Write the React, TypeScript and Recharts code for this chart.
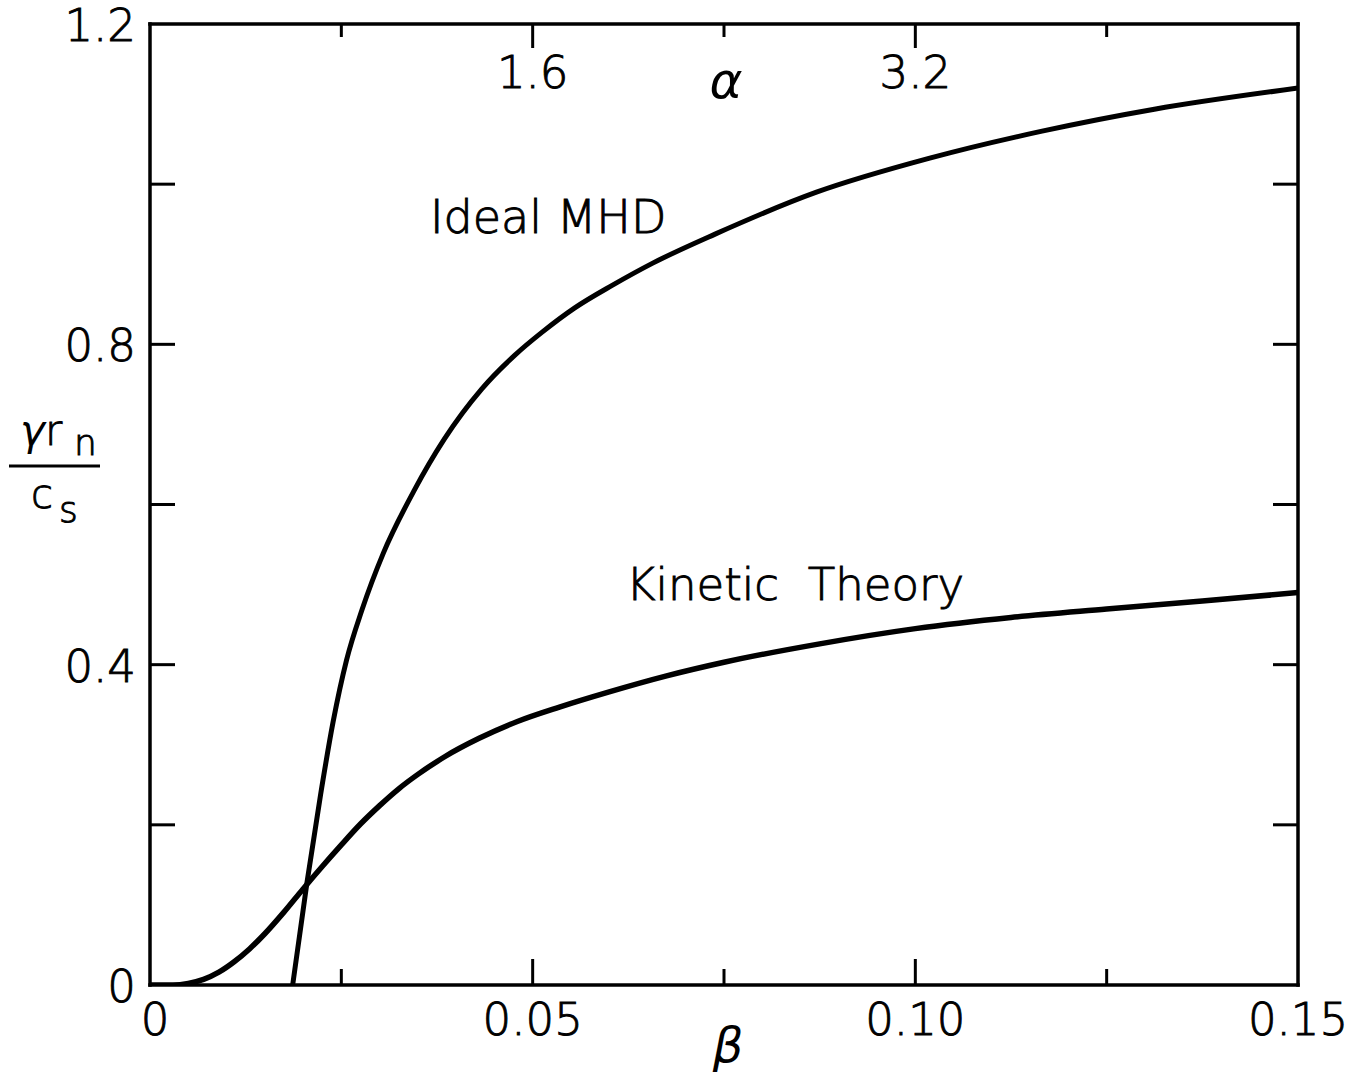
import React from 'react';
import { ComposedChart, Line, XAxis, YAxis } from 'recharts';

// Growth rate vs. beta: ideal MHD and kinetic theory curves
const betaMHD = [0.01864, 0.0205, 0.02228, 0.02392, 0.02568, 0.02769, 0.03049, 0.03447, 0.03845, 0.04333, 0.04768, 0.05124, 0.05545, 0.06044, 0.06569, 0.07383, 0.08708, 0.10188, 0.11656, 0.13123, 0.15];
const rateMHD = [0, 0.1273, 0.2372, 0.3283, 0.4057, 0.4682, 0.5393, 0.6167, 0.6816, 0.7441, 0.7865, 0.8152, 0.8452, 0.8739, 0.9014, 0.9376, 0.99, 1.0325, 1.0662, 1.0936, 1.12];

const betaKinetic = [0, 0.003, 0.005, 0.007, 0.009, 0.011, 0.013, 0.015, 0.0175, 0.02, 0.0225, 0.025, 0.0275, 0.03, 0.0325, 0.035, 0.0385, 0.043, 0.048, 0.0535, 0.06, 0.0675, 0.075, 0.0875, 0.1, 0.1125, 0.125, 0.1375, 0.15];
const rateKinetic = [0, 0, 0.002, 0.007, 0.016, 0.029, 0.045, 0.064, 0.091, 0.12, 0.148, 0.175, 0.201, 0.224, 0.245, 0.263, 0.285, 0.308, 0.329, 0.347, 0.366, 0.386, 0.403, 0.426, 0.445, 0.459, 0.4695, 0.4795, 0.49];

// Axis ticks and their labels (empty label = unlabeled tick)
const betaTicks = [0, 0.025, 0.05, 0.075, 0.1, 0.125, 0.15];
const betaTickLabels = ['0', '', '0.05', '', '0.10', '', '0.15'];
const rateTicks = [0, 0.2, 0.4, 0.6, 0.8, 1.0, 1.2];
const rateTickLabels = ['0', '', '0.4', '', '0.8', '', '1.2'];
const alphaTicks = [0, 0.8, 1.6, 2.4, 3.2, 4.0, 4.8];
const alphaTickLabels = ['', '', '1.6', '', '3.2', '', ''];

const mhdData = betaMHD.map((b, i) => ({ beta: b, rate: rateMHD[i] }));
const kineticData = betaKinetic.map((b, i) => ({ beta: b, rate: rateKinetic[i] }));
// anchors the secondary alpha axis (no visible values)
const alphaScaleData = alphaTicks.map((a) => ({ alpha: a, rate: null }));

const FONT = '"DejaVu Sans", sans-serif';
const WEIGHT = 200;
const INK = '#000';
const textInk = { fill: INK, stroke: INK, strokeWidth: 0.9 };
const axisStyle = { stroke: INK, strokeWidth: 3.5, strokeLinecap: 'square' as const };

const findIdx = (arr: number[], v: number) => arr.findIndex((t) => Math.abs(t - v) < 1e-9);

const BottomTick = (props: any) => {
  const { x, y, payload } = props;
  const i = findIdx(betaTicks, payload.value);
  const label = betaTickLabels[i];
  const edge = i === 0 || i === betaTicks.length - 1;
  const len = label ? 26 : 16;
  return (
    <g>
      {!edge && <line x1={x} x2={x} y1={y} y2={y - len} stroke={INK} strokeWidth={3} />}
      {label && (
        <text x={x + (i === 0 ? 5 : 0)} y={y + 50} textAnchor="middle" fontFamily={FONT} fontWeight={WEIGHT} fontSize={45} {...textInk}>
          {label}
        </text>
      )}
    </g>
  );
};

const TopTick = (props: any) => {
  const { x, y, payload } = props;
  const i = findIdx(alphaTicks, payload.value);
  const label = alphaTickLabels[i];
  const edge = i === 0 || i === alphaTicks.length - 1;
  const len = label ? 24 : 13;
  return (
    <g>
      {!edge && <line x1={x} x2={x} y1={y} y2={y + len} stroke={INK} strokeWidth={3} />}
      {label && (
        <text x={x} y={y + 64} textAnchor="middle" fontFamily={FONT} fontWeight={WEIGHT} fontSize={45} {...textInk}>
          {label}
        </text>
      )}
    </g>
  );
};

const LeftTick = (props: any) => {
  const { x, y, payload } = props;
  const i = findIdx(rateTicks, payload.value);
  const label = rateTickLabels[i];
  const edge = i === 0 || i === rateTicks.length - 1;
  return (
    <g>
      {!edge && <line x1={x} x2={x + 25} y1={y} y2={y} stroke={INK} strokeWidth={3} />}
      {label && (
        <text x={x - 14} y={y + 17} textAnchor="end" fontFamily={FONT} fontWeight={WEIGHT} fontSize={45} {...textInk}>
          {label}
        </text>
      )}
    </g>
  );
};

const RightTick = (props: any) => {
  const { x, y, payload } = props;
  const i = findIdx(rateTicks, payload.value);
  const edge = i === 0 || i === rateTicks.length - 1;
  return <g>{!edge && <line x1={x} x2={x - 25} y1={y} y2={y} stroke={INK} strokeWidth={3} />}</g>;
};

export default function App() {
  return (
    <div style={{ position: 'absolute', left: 0, top: 0, background: '#fff' }}>
      <ComposedChart width={1360} height={1078} margin={{ top: 0, right: 0, bottom: 0, left: 0 }}>
        <XAxis
          xAxisId="beta"
          type="number"
          dataKey="beta"
          domain={[0, 0.15]}
          allowDataOverflow
          ticks={betaTicks}
          interval={0}
          height={93}
          tickLine={false}
          tickSize={0}
          tickMargin={0}
          axisLine={axisStyle}
          tick={<BottomTick />}
        />
        <XAxis
          xAxisId="alpha"
          orientation="top"
          type="number"
          dataKey="alpha"
          domain={[0, 4.8]}
          allowDataOverflow
          ticks={alphaTicks}
          interval={0}
          height={24}
          tickLine={false}
          tickSize={0}
          tickMargin={0}
          axisLine={axisStyle}
          tick={<TopTick />}
        />
        <YAxis
          yAxisId="left"
          type="number"
          domain={[0, 1.2]}
          allowDataOverflow
          ticks={rateTicks}
          interval={0}
          width={150}
          tickLine={false}
          tickSize={0}
          tickMargin={0}
          axisLine={axisStyle}
          tick={<LeftTick />}
        />
        <YAxis
          yAxisId="right"
          orientation="right"
          type="number"
          domain={[0, 1.2]}
          allowDataOverflow
          ticks={rateTicks}
          interval={0}
          width={62}
          tickLine={false}
          tickSize={0}
          tickMargin={0}
          axisLine={axisStyle}
          tick={<RightTick />}
        />
        <Line
          xAxisId="alpha"
          yAxisId="left"
          data={alphaScaleData}
          dataKey="rate"
          stroke="none"
          dot={false}
          activeDot={false}
          legendType="none"
          isAnimationActive={false}
        />
        <Line
          xAxisId="beta"
          yAxisId="left"
          data={mhdData}
          dataKey="rate"
          type="monotone"
          stroke={INK}
          strokeWidth={5}
          dot={false}
          activeDot={false}
          isAnimationActive={false}
        />
        <Line
          xAxisId="beta"
          yAxisId="left"
          data={kineticData}
          dataKey="rate"
          type="monotone"
          stroke={INK}
          strokeWidth={5.5}
          dot={false}
          activeDot={false}
          isAnimationActive={false}
        />

        {/* curve annotations */}
        <text x={430} y={233} fontFamily={FONT} fontWeight={WEIGHT} fontSize={46} {...textInk}>Ideal MHD</text>
        <text x={626} y={600} fontFamily={FONT} fontWeight={WEIGHT} fontSize={45} {...textInk} style={{ whiteSpace: 'pre' }}>Kinetic  Theory</text>

        {/* axis symbols */}
        <text x={726} y={98} textAnchor="middle" fontFamily={FONT} fontStyle="italic" fontSize={50} fill={INK}>α</text>
        <text x={728} y={1062} textAnchor="middle" fontFamily={FONT} fontStyle="italic" fontSize={48} fill={INK}>β</text>

        {/* y-axis quantity: γ r_n / c_s */}
        <text x={20} y={445} fontFamily={FONT} fontStyle="italic" fontSize={42} fill={INK}>γ</text>
        <text x={45} y={445} fontFamily={FONT} fontWeight={WEIGHT} fontSize={42} {...textInk}>r</text>
        <text x={74} y={455} fontFamily={FONT} fontWeight={WEIGHT} fontSize={36} {...textInk}>n</text>
        <line x1={9} x2={100} y1={466} y2={466} stroke={INK} strokeWidth={3} />
        <text x={31} y={508} fontFamily={FONT} fontWeight={WEIGHT} fontSize={40} {...textInk}>c</text>
        <text x={59} y={522} fontFamily={FONT} fontWeight={WEIGHT} fontSize={36} {...textInk}>s</text>
      </ComposedChart>
    </div>
  );
}
